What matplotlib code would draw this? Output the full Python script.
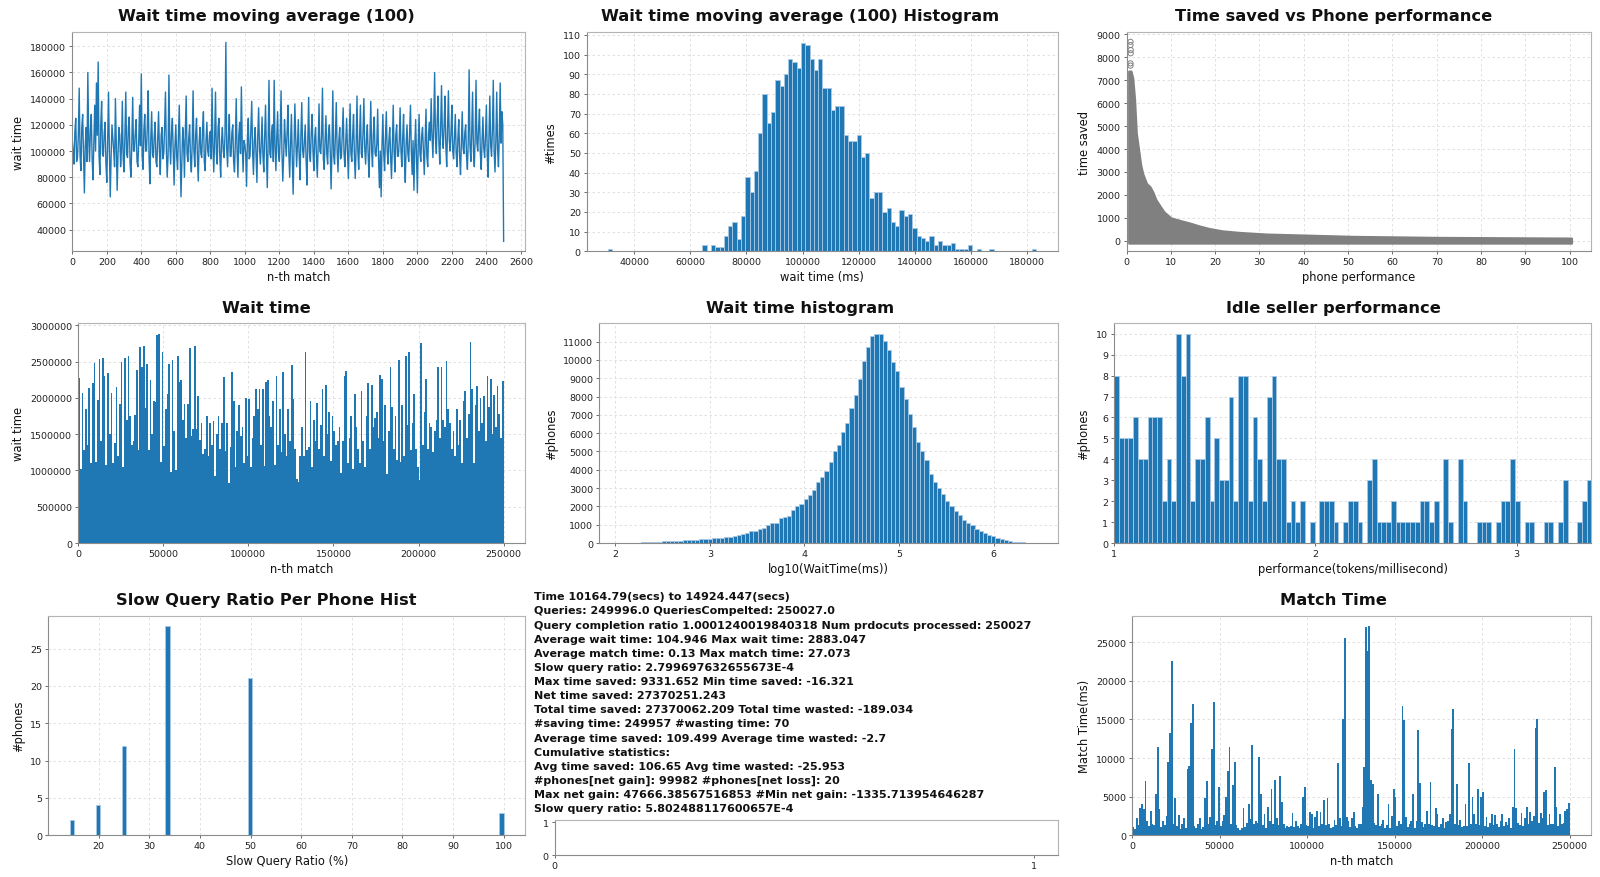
import numpy as np
import matplotlib
matplotlib.use("Agg")
import matplotlib.pyplot as plt

plt.rcParams['font.family'] = ['DejaVu Sans']

W, H = 1600, 878
BLUE = '#1f77b4'
EDGE = '#a9c9e6'

# ---------------- data ----------------
# moving average of wait time, one value every 5 matches, in thousands of ms
ma_step = 5
wait_ma_k = [
    108, 100, 90, 115, 125, 92, 95, 112, 148, 96, 85, 118, 128, 98, 68, 104, 118, 92, 160, 110,
    92, 116, 128, 94, 78, 106, 135, 100, 152, 112, 168, 96, 82, 120, 138, 98, 96, 114, 122, 90,
    76, 108, 145, 100, 65, 96, 120, 110, 100, 88, 140, 104, 70, 98, 118, 112, 88, 102, 138, 94,
    84, 112, 145, 98, 95, 118, 126, 90, 80, 106, 141, 100, 100, 114, 124, 92, 88, 108, 135, 104,
    159, 96, 86, 116, 128, 100, 100, 120, 146, 94, 75, 110, 130, 98, 95, 112, 122, 92, 88, 108,
    130, 100, 82, 112, 118, 94, 98, 118, 145, 102, 80, 96, 158, 106, 90, 114, 125, 98, 74, 104,
    120, 96, 86, 110, 135, 100, 65, 92, 118, 108, 80, 114, 142, 98, 92, 110, 120, 94, 84, 106,
    146, 100, 88, 112, 125, 96, 77, 106, 118, 98, 95, 116, 130, 92, 85, 108, 122, 100, 96, 112,
    115, 94, 148, 104, 84, 110, 145, 98, 90, 118, 125, 96, 80, 108, 118, 100, 95, 112, 183, 102,
    88, 110, 128, 96, 96, 114, 120, 92, 84, 106, 140, 100, 80, 112, 122, 98, 149, 104, 84, 108,
    105, 98, 73, 110, 125, 94, 96, 116, 138, 100, 82, 108, 118, 96, 76, 112, 133, 102, 90, 106,
    126, 96, 84, 112, 135, 100, 72, 106, 154, 98, 95, 114, 120, 92, 154, 104, 85, 110, 130, 98,
    92, 112, 146, 100, 77, 96, 124, 108, 96, 114, 135, 98, 80, 106, 128, 94, 67, 102, 136, 110,
    88, 104, 124, 96, 78, 112, 137, 100, 95, 108, 120, 94, 74, 106, 141, 98, 92, 114, 128, 100,
    85, 110, 118, 96, 80, 104, 136, 100, 98, 112, 148, 94, 86, 108, 127, 98, 90, 114, 120, 100,
    71, 102, 146, 96, 90, 112, 137, 100, 84, 108, 118, 94, 96, 114, 133, 98, 88, 106, 125, 100,
    79, 106, 136, 98, 92, 112, 128, 96, 79, 104, 142, 100, 86, 110, 135, 98, 95, 114, 140, 102,
    90, 108, 120, 96, 80, 110, 138, 100, 88, 114, 126, 98, 96, 106, 132, 94, 72, 100, 65, 104,
    128, 98, 85, 110, 130, 100, 90, 108, 118, 96, 79, 104, 135, 100, 84, 112, 120, 96, 96, 108,
    133, 100, 88, 110, 128, 94, 76, 106, 120, 98, 92, 114, 135, 100, 82, 108, 70, 102, 124, 96,
    68, 104, 128, 98, 92, 112, 118, 100, 82, 106, 132, 96, 88, 114, 122, 108, 140, 112, 95, 120,
    160, 110, 98, 124, 142, 106, 90, 118, 150, 112, 102, 120, 142, 104, 88, 116, 146, 108, 100, 114,
    135, 100, 94, 112, 128, 98, 88, 110, 124, 96, 82, 106, 130, 102, 98, 114, 120, 96, 86, 108,
    162, 104, 92, 114, 145, 100, 88, 110, 154, 106, 100, 118, 132, 98, 86, 108, 126, 102, 95, 112,
    135, 98, 80, 110, 142, 104, 96, 116, 154, 100, 84, 108, 145, 102, 88, 114, 152, 106, 130, 120,
    31,
]

# histogram of the moving average: 100 bins between these limits
ma_hist_lo, ma_hist_hi = 30800, 183300
ma_hist_counts = [
    1, 0, 0, 0, 0, 0, 0, 0, 0, 0,
    0, 0, 0, 0, 0, 0, 0, 0, 0, 0,
    0, 0, 3, 0, 3, 2, 2, 8, 13, 15,
    6, 18, 38, 30, 41, 60, 80, 65, 71, 87,
    84, 90, 98, 96, 93, 106, 105, 98, 92, 98,
    83, 83, 72, 74, 74, 59, 56, 56, 59, 48,
    50, 27, 30, 30, 20, 22, 15, 13, 21, 18,
    19, 12, 8, 7, 5, 8, 3, 5, 3, 3,
    4, 1, 1, 1, 3, 0, 1, 0, 0, 1,
    0, 0, 0, 0, 0, 0, 0, 0, 0, 1,
]

# time saved vs phone performance: outline of the point cloud
perf_pts = [0.5, 0.7, 1.0, 1.4, 1.8, 2.2, 2.7, 3.2, 3.7, 4.5, 5.3, 6.0, 6.6, 7.6,
            8.5, 10.0, 12.3, 14.3, 16.3, 18.6, 21.6, 25.6, 31.7, 39.5, 51.0, 70.0, 100.4]
saved_top = [7400, 7400, 7400, 7100, 6200, 4700, 4000, 3300, 2900, 2500, 2350, 2100, 1800, 1500,
             1250, 1000, 870, 770, 650, 535, 430, 360, 290, 250, 190, 145, 115]
saved_floor = -100
outlier_perf = [0.9, 0.9, 0.95, 0.95, 0.9, 0.9, 5.4, 7.2]
outlier_saved = [8680, 8540, 8320, 8180, 7740, 7640, 1840, 1350]

# wait time per match, one value per 1000 matches, millions of ms
wt_step = 1000
wait_time_m = [
    2.28, 1.02, 2.06, 1.28, 1.84, 1.35, 2.13, 1.10, 2.20, 2.48,
    1.12, 1.97, 2.53, 1.40, 2.55, 2.30, 1.08, 2.34, 1.50, 2.06,
    1.10, 1.38, 2.15, 1.20, 1.92, 2.50, 1.05, 2.55, 1.70, 2.58,
    1.75, 1.35, 1.40, 1.76, 2.38, 1.28, 2.70, 2.42, 2.71, 1.86,
    2.46, 1.28, 2.25, 1.50, 1.95, 1.94, 2.87, 2.883, 1.12, 2.63,
    1.33, 1.85, 2.05, 2.47, 0.98, 2.52, 1.55, 1.00, 2.57, 2.22,
    2.24, 1.70, 1.92, 1.45, 1.92, 2.68, 1.48, 1.57, 2.72, 1.57,
    2.02, 1.42, 1.65, 1.22, 1.30, 1.75, 1.20, 1.65, 1.35, 1.68,
    0.93, 1.50, 1.75, 1.30, 1.65, 2.29, 1.27, 1.65, 0.82, 1.32,
    2.35, 1.95, 1.05, 1.55, 1.90, 1.48, 1.60, 1.10, 2.00, 1.20,
    1.98, 1.05, 1.45, 1.75, 2.12, 1.85, 2.12, 1.35, 2.12, 1.06,
    2.22, 2.25, 1.75, 1.60, 1.95, 1.08, 2.30, 1.35, 1.85, 1.25,
    2.35, 1.50, 1.20, 1.85, 1.40, 2.45, 1.99, 1.30, 0.88, 0.84,
    1.20, 1.60, 1.20, 2.63, 1.28, 1.32, 1.96, 1.05, 1.70, 1.40,
    1.93, 1.30, 1.62, 2.12, 1.20, 2.18, 1.50, 1.80, 1.13, 1.75,
    1.55, 1.35, 1.40, 1.60, 0.97, 1.40, 2.30, 2.37, 1.10, 1.45,
    1.75, 1.02, 2.05, 1.60, 1.30, 1.10, 2.10, 1.40, 1.05, 1.75,
    2.20, 1.30, 2.18, 1.60, 1.72, 1.80, 1.45, 2.31, 2.26, 1.40,
    1.90, 0.95, 1.55, 2.42, 1.88, 1.30, 1.75, 1.15, 2.52, 1.12,
    1.90, 1.20, 2.58, 1.62, 2.63, 1.28, 1.65, 2.05, 1.30, 1.05,
    0.87, 2.75, 1.35, 1.80, 2.26, 1.30, 1.65, 1.60, 1.25, 1.55,
    1.70, 2.42, 1.45, 2.42, 1.70, 1.60, 2.51, 1.85, 1.65, 1.30,
    1.55, 1.20, 1.85, 1.35, 1.70, 1.10, 1.95, 2.10, 1.45, 1.78,
    2.77, 2.12, 1.10, 1.90, 2.16, 1.55, 2.00, 1.65, 2.02, 1.40,
    2.30, 1.88, 2.26, 1.50, 2.04, 1.60, 2.17, 1.78, 1.45, 2.23,
]

# histogram of log10(wait time): 100 bins
log_hist_lo, log_hist_hi = 2.05, 6.46
log_hist_counts = [
    5, 8, 12, 18, 25, 32, 40, 50, 60, 72,
    85, 95, 105, 118, 130, 145, 160, 170, 185, 195,
    210, 230, 255, 280, 300, 310, 340, 400, 430, 500,
    560, 640, 680, 760, 800, 1000, 1070, 1110, 1360, 1430,
    1500, 1800, 2000, 2120, 2400, 2600, 2880, 3330, 3600, 3960,
    4420, 5000, 5370, 6050, 6580, 7350, 8070, 8960, 9930, 10730,
    11330, 11400, 11430, 11050, 10560, 9880, 9380, 8520, 7850, 7030,
    6360, 5530, 5000, 4520, 3760, 3320, 2980, 2680, 2300, 2030,
    1750, 1510, 1280, 1100, 960, 770, 640, 560, 450, 360,
    280, 200, 150, 110, 80, 55, 35, 20, 10, 3,
]

# idle seller performance: 100 bins
idle_lo, idle_hi = 1.0, 3.371
idle_counts = [
    8, 5, 5, 5, 6, 4, 4, 6, 6, 6,
    2, 4, 2, 10, 8, 10, 2, 4, 4, 6,
    2, 5, 3, 3, 7, 2, 8, 8, 2, 6,
    4, 2, 7, 8, 4, 4, 1, 2, 1, 2,
    0, 1, 0, 2, 2, 2, 1, 0, 1, 2,
    2, 1, 0, 3, 4, 1, 1, 1, 2, 1,
    1, 1, 1, 1, 2, 2, 1, 2, 0, 4,
    1, 0, 4, 2, 0, 0, 1, 1, 1, 0,
    1, 2, 2, 4, 2, 0, 1, 1, 0, 0,
    1, 1, 0, 1, 3, 0, 0, 1, 2, 3,
]

# slow query ratio per phone
slow_ratio = [100 / 7, 20, 25, 100 / 3, 50, 100]
slow_phones = [2, 4, 12, 28, 21, 3]

# match time, one value per 1000 matches, ms
mt_step = 1000
match_time = [
    1100, 800, 2300, 1300, 3500, 4100, 3400, 7000, 1800, 1200,
    3200, 1400, 1300, 5400, 11400, 3400, 1100, 1900, 1300, 2500,
    9500, 13200, 22500, 1500, 4800, 1200, 2600, 800, 1500, 2200,
    1000, 8600, 9000, 14600, 17000, 1200, 1000, 1400, 2200, 800,
    1100, 4800, 7000, 1500, 2400, 11200, 17200, 1300, 1800, 6300,
    1200, 1800, 2600, 4900, 8300, 11400, 1500, 6500, 9500, 1300,
    900, 700, 1000, 3500, 1100, 1600, 4000, 2100, 11700, 1400,
    1800, 1600, 10100, 5400, 1300, 2800, 1000, 3600, 1900, 6000,
    1500, 7200, 2200, 1300, 7700, 4300, 1400, 900, 1200, 1100,
    1200, 2900, 1100, 1800, 1200, 1000, 1500, 5000, 6300, 1300,
    1200, 3000, 2700, 1000, 2400, 3100, 1200, 3000, 1400, 4600,
    1300, 4800, 1500, 1000, 1100, 2000, 1300, 9300, 2300, 1200,
    15000, 25600, 2400, 1800, 1100, 2200, 3000, 1200, 900, 1500,
    1400, 3700, 8800, 27000, 23900, 27073, 7200, 6600, 1600, 1300,
    5300, 1200, 1400, 2000, 1000, 1300, 4000, 900, 2500, 6000,
    4900, 1200, 1800, 1400, 16700, 14900, 2400, 1100, 1500, 1800,
    5300, 1000, 1800, 13600, 6800, 1700, 1100, 1400, 3200, 1500,
    6900, 1300, 1200, 3500, 2800, 1100, 1500, 2300, 1000, 1700,
    1900, 2800, 13700, 16300, 1500, 6600, 1300, 2000, 1100, 1200,
    4000, 1200, 9300, 1500, 5000, 2700, 1400, 6000, 1300, 5000,
    5600, 1200, 2400, 1100, 1600, 2800, 1300, 2600, 1500, 1100,
    1800, 2800, 1200, 1700, 1300, 2200, 1000, 3600, 11200, 3500,
    1600, 1300, 2900, 1200, 2200, 3700, 1400, 3000, 1800, 2500,
    13900, 15000, 1600, 2900, 2200, 5600, 5800, 1300, 2800, 1500,
    1400, 8800, 3600, 1200, 2800, 1500, 1600, 3100, 3400, 4200,
]

stats_lines = [
    "Time 10164.79(secs) to 14924.447(secs)",
    "Queries: 249996.0 QueriesCompelted: 250027.0",
    "Query completion ratio 1.0001240019840318 Num prdocuts processed: 250027",
    "Average wait time: 104.946 Max wait time: 2883.047",
    "Average match time: 0.13 Max match time: 27.073",
    "Slow query ratio: 2.799697632655673E-4",
    "Max time saved: 9331.652 Min time saved: -16.321",
    "Net time saved: 27370251.243",
    "Total time saved: 27370062.209 Total time wasted: -189.034",
    "#saving time: 249957 #wasting time: 70",
    "Average time saved: 109.499 Average time wasted: -2.7",
    "Cumulative statistics:",
    "Avg time saved: 106.65 Avg time wasted: -25.953",
    "#phones[net gain]: 99982 #phones[net loss]: 20",
    "Max net gain: 47666.38567516853 #Min net gain: -1335.713954646287",
    "Slow query ratio: 5.802488117600657E-4",
]

# ---------------- figure ----------------
fig = plt.figure(figsize=(W / 100, H / 100), dpi=100)


def axes_px(l, t, r, b):
    return fig.add_axes([l / W, 1 - b / H, (r - l) / W, (b - t) / H])


def style(ax, grid=True):
    for side in ('left', 'bottom'):
        ax.spines[side].set_color('#8c8c8c')
    for side in ('top', 'right'):
        ax.spines[side].set_color('#b4b4b4')
    for s in ax.spines.values():
        s.set_linewidth(0.8)
    ax.tick_params(labelsize=6.8, length=2.5, width=0.6, color='#555555',
                   labelcolor='#222222', pad=1.8)
    if grid:
        ax.grid(True, ls=(0, (3, 3)), color='#dcdcdc', lw=0.6)
        ax.set_axisbelow(True)


def labels(ax, xl, yl):
    ax.set_xlabel(xl, fontsize=8.3, color='#111111', labelpad=3)
    ax.set_ylabel(yl, fontsize=8.3, color='#111111', labelpad=4)


def title(col, y, text):
    fig.text((col + 0.5) / 3, 1 - y / H, text, ha='center', va='center',
             fontsize=11.7, fontweight='bold', color='#111111')


# 1. moving average line
ax1 = axes_px(72.3, 33.4, 525.2, 252.3)
style(ax1)
ma = np.array(wait_ma_k) * 1000
ax1.plot(np.arange(len(ma)) * ma_step, ma, color=BLUE, lw=1.0)
ax1.set_xlim(0, 2625)
ax1.set_xticks(np.arange(0, 2601, 200))
ax1.set_yticks(np.arange(40000, 180001, 20000))
labels(ax1, 'n-th match', 'wait time')
title(0, 16.7, 'Wait time moving average (100)')

# 2. moving average histogram
ax2 = axes_px(586.8, 33.4, 1057.9, 252.3)
style(ax2)
edges = np.linspace(ma_hist_lo, ma_hist_hi, len(ma_hist_counts) + 1)
ax2.hist((edges[:-1] + edges[1:]) / 2, bins=edges, weights=ma_hist_counts,
         color=BLUE, edgecolor=EDGE, linewidth=0.6)
ax2.set_xticks(np.arange(40000, 180001, 20000))
ax2.set_yticks(np.arange(0, 111, 10))
labels(ax2, 'wait time (ms)', '#times')
title(1, 16.7, 'Wait time moving average (100) Histogram')

# 3. time saved vs phone performance
ax3 = axes_px(1126.5, 33.4, 1591.4, 252.3)
style(ax3)
ax3.fill_between(perf_pts, saved_floor, saved_top, facecolor='#808080',
                 edgecolor='#808080', lw=1.6)
ax3.scatter(outlier_perf, outlier_saved, s=14, facecolors='none', edgecolors='#808080', lw=0.7)
ax3.set_xlim(0, 104.9)
ax3.set_ylim(-460, 9090)
ax3.set_xticks(np.arange(0, 101, 10))
ax3.set_yticks(np.arange(0, 9001, 1000))
labels(ax3, 'phone performance', 'time saved')
title(2, 16.7, 'Time saved vs Phone performance')

# 4. wait time bars
ax4 = axes_px(78.2, 324.3, 525.2, 544)
style(ax4)
wt = np.array(wait_time_m) * 1e6
ax4.bar(np.arange(len(wt)) * wt_step, wt, width=wt_step, align='edge', color=BLUE, lw=0)
ax4.set_xlim(0, 262700)
ax4.set_xticks(np.arange(0, 250001, 50000))
ax4.set_yticks(np.arange(0, 3000001, 500000))
ax4.ticklabel_format(style='plain')
labels(ax4, 'n-th match', 'wait time')
title(0, 308.3, 'Wait time')

# 5. log wait time histogram
ax5 = axes_px(599.2, 324.3, 1057.9, 544)
style(ax5)
edges = np.linspace(log_hist_lo, log_hist_hi, len(log_hist_counts) + 1)
ax5.hist((edges[:-1] + edges[1:]) / 2, bins=edges, weights=log_hist_counts,
         color=BLUE, edgecolor=EDGE, linewidth=0.6)
ax5.set_xticks([2, 3, 4, 5, 6])
ax5.set_yticks(np.arange(0, 11001, 1000))
labels(ax5, 'log10(WaitTime(ms))', '#phones')
title(1, 308.3, 'Wait time histogram')

# 6. idle seller performance
ax6 = axes_px(1114.1, 324.3, 1591.4, 544)
style(ax6)
edges = np.linspace(idle_lo, idle_hi, len(idle_counts) + 1)
ax6.hist((edges[:-1] + edges[1:]) / 2, bins=edges, weights=idle_counts,
         color=BLUE, edgecolor=EDGE, linewidth=0.6)
ax6.set_xlim(idle_lo, idle_hi)
ax6.set_xticks([1, 2, 3])
ax6.set_yticks(np.arange(0, 11, 1))
labels(ax6, 'performance(tokens/millisecond)', '#phones')
title(2, 308.3, 'Idle seller performance')

# 7. slow query ratio histogram
ax7 = axes_px(48.2, 616.7, 525.2, 836.3)
style(ax7)
ax7.hist(slow_ratio, bins=100, weights=slow_phones, color=BLUE, edgecolor=EDGE, linewidth=0.6)
ax7.set_xticks(np.arange(20, 101, 10))
ax7.set_yticks(np.arange(0, 26, 5))
labels(ax7, 'Slow Query Ratio (%)', '#phones')
title(0, 600.7, 'Slow Query Ratio Per Phone Hist')

# 8. text block and empty axes
for i, line in enumerate(stats_lines):
    fig.text(534 / W, 1 - (597.3 + i * 14.13) / H, line, ha='left', va='center',
             fontsize=8, fontweight='bold', color='#111111')
ax8 = axes_px(554.8, 821.3, 1057.9, 856.3)
style(ax8, grid=False)
ax8.set_xlim(0, 1.05)
ax8.set_ylim(0, 1.06)
ax8.set_xticks([0, 1])
ax8.set_yticks([0, 1])

# 9. match time bars
ax9 = axes_px(1132.3, 616.7, 1591.4, 836.3)
style(ax9)
ax9.bar(np.arange(len(match_time)) * mt_step, match_time, width=mt_step, align='edge',
        color=BLUE, lw=0)
ax9.set_xlim(0, 262400)
ax9.set_xticks(np.arange(0, 250001, 50000))
ax9.set_yticks(np.arange(0, 25001, 5000))
labels(ax9, 'n-th match', 'Match Time(ms)')
title(2, 600.7, 'Match Time')

fig.savefig('out.png', dpi=100)
